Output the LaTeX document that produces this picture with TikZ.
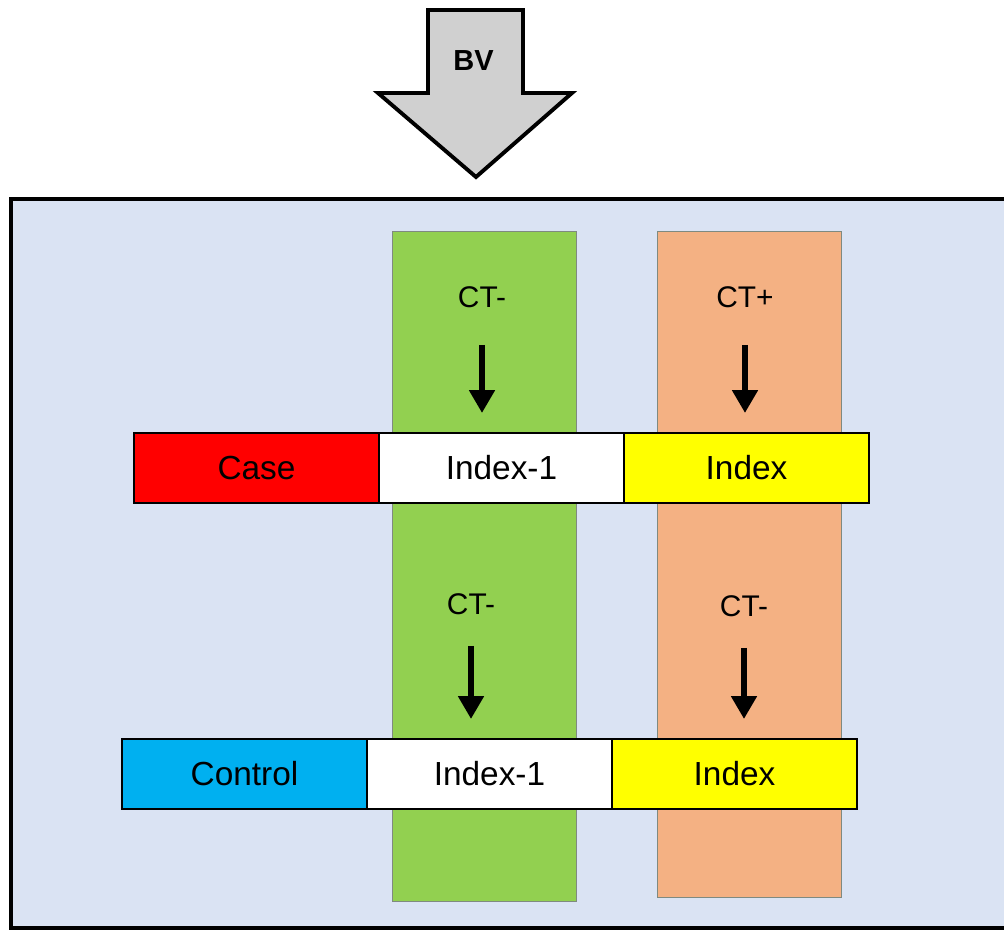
\documentclass[tikz,border=0pt]{standalone}
\usepackage{fontspec}
\setmainfont{Liberation Sans}
\usetikzlibrary{arrows.meta, positioning}
\definecolor{panel}   {HTML}{DAE3F3}
\definecolor{minus}   {HTML}{92D050}
\definecolor{plus}    {HTML}{F4B183}
\definecolor{caseRed} {HTML}{FF0000}
\definecolor{ctrlBlue}{HTML}{00B0F0}
\definecolor{idxYel}  {HTML}{FFFF00}
\definecolor{bvGray}  {HTML}{D0D0D0}
\definecolor{colEdge} {HTML}{7F8A80}

\begin{document}
\begin{tikzpicture}[
    cell/.style={draw=black, line width=1.7pt, minimum width=4.9cm,
                 minimum height=1.4cm, outer sep=0pt, inner sep=0pt,
                 font=\fontsize{19}{23}\selectfont},
    column/.style={draw=colEdge, line width=0.8pt, minimum width=3.68cm,
                   anchor=north west, inner sep=0pt},
    ctlabel/.style={font=\fontsize{17}{20}\selectfont},
    ctarrow/.style={-{Triangle[length=13pt, width=14pt]}, line width=3.4pt}
  ]
    \useasboundingbox (0,0) rectangle (20.08,-18.62);
    % panel
    \draw[fill=panel, line width=2.3pt] (0.22,-3.98) rectangle (20.4,-18.56);

    % incoming arrow
    \draw[fill=bvGray, line width=2.2pt, line join=miter]
      (8.56,-0.2) -- (10.46,-0.2) -- (10.46,-1.86) -- (11.44,-1.86)
      -- (9.52,-3.54) -- (7.56,-1.86) -- (8.56,-1.86) -- cycle;
    \node[font=\fontsize{16.5}{19}\selectfont\bfseries] (bv) at (9.47,-1.21) {BV};

    % columns
    \node[column, fill=minus, minimum height=13.4cm] (colA) at (7.84,-4.62) {};
    \node[column, fill=plus, minimum height=13.32cm] (colB) at (13.14,-4.62) {};

    % case row
    \node[cell, fill=caseRed, anchor=west] (case) at (2.68,-9.36) {Case};
    \node[cell, fill=white, right=0pt of case] (idxA) {Index-1};
    \node[cell, fill=idxYel, right=0pt of idxA] (idxB) {Index};

    % control row
    \node[cell, fill=ctrlBlue, anchor=west] (ctrl) at (2.44,-15.48) {Control};
    \node[cell, fill=white, right=0pt of ctrl] (idxC) {Index-1};
    \node[cell, fill=idxYel, right=0pt of idxC] (idxD) {Index};

    % labels and arrows
    \node[ctlabel] (ctA) at (9.64,-5.94)  {CT-};
    \node[ctlabel] (ctB) at (14.9,-5.94)  {CT+};
    \node[ctlabel] (ctC) at (9.42,-12.08) {CT-};
    \node[ctlabel] (ctD) at (14.88,-12.12) {CT-};

    \draw[ctarrow, shorten <=0.62cm, shorten >=0.4cm] (ctA) -- (ctA |- idxA.north);
    \draw[ctarrow, shorten <=0.62cm, shorten >=0.4cm] (ctB) -- (ctB |- idxB.north);
    \draw[ctarrow, shorten <=0.5cm, shorten >=0.4cm] (ctC) -- (ctC |- idxC.north);
    \draw[ctarrow, shorten <=0.5cm, shorten >=0.4cm] (ctD) -- (ctD |- idxD.north);
  \end{tikzpicture}
\end{document}
